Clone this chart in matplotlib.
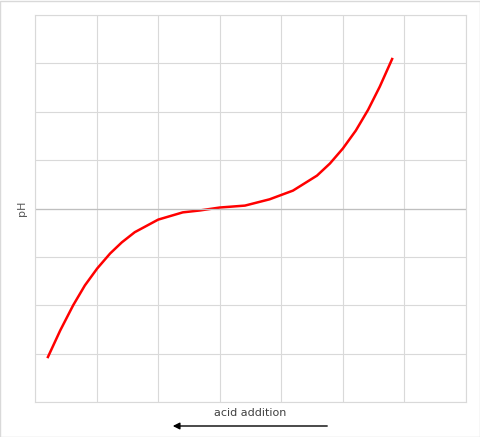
import matplotlib
matplotlib.use("Agg")
import matplotlib.pyplot as plt
from matplotlib.patches import Rectangle

acid = [0.21, 0.41, 0.62, 0.81, 1.01, 1.22, 1.41, 1.62, 2.00, 2.40, 2.68, 3.00,
        3.41, 3.81, 4.19, 4.58, 4.79, 5.00, 5.21, 5.41, 5.60, 5.80]
ph = [-3.07, -2.52, -2.00, -1.59, -1.24, -0.93, -0.70, -0.49, -0.23, -0.08, -0.04, 0.02,
      0.06, 0.19, 0.37, 0.68, 0.93, 1.24, 1.61, 2.04, 2.52, 3.09]

fig = plt.figure(figsize=(4.81, 4.37), dpi=100)
ax = fig.add_axes([35/481, 1-402/437, 431/481, 387/437])
ax.plot(acid, ph, color='red', linewidth=1.8)
ax.set_xlim(0, 7)
ax.set_ylim(-4, 4)
ax.set_xticks(range(8))
ax.set_yticks(range(-4, 5))
ax.grid(True, color='#d9d9d9', linewidth=0.8)
ax.axhline(0, color='#bfbfbf', linewidth=0.9)
ax.tick_params(length=0, labelbottom=False, labelleft=False)
for s in ax.spines.values():
    s.set_color('#d9d9d9')
ax.set_ylabel('pH', fontsize=8, color='#595959', labelpad=6)

fig.text(250/481, 1-413/437, 'acid addition', fontsize=8, color='#404040', ha='center', va='center')
fig.add_artist(plt.Annotation('', xy=(170/481, 1-426/437), xytext=(330/481, 1-426/437),
                              xycoords='figure fraction', textcoords='figure fraction',
                              arrowprops=dict(arrowstyle='-|>', color='black', lw=1)))
fig.patches.append(Rectangle((0.001, 0.001), 0.997, 0.997, transform=fig.transFigure,
                             fill=False, edgecolor='#d9d9d9', linewidth=1))
fig.savefig('out.png', dpi=100)
